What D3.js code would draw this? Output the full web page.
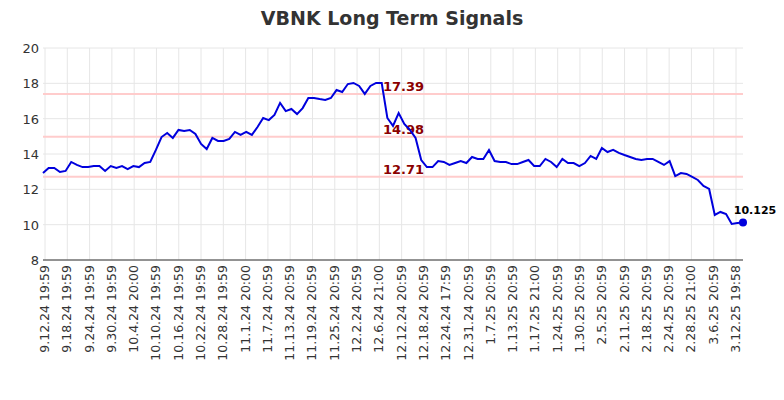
<!DOCTYPE html><html><head><meta charset="utf-8"><script src="https://cdn.jsdelivr.net/npm/d3@7"></script>
<style>body{margin:0;background:#fff}</style></head><body><svg id="c" width="784" height="400"></svg><script>
const values=[12.92,13.21,13.21,12.98,13.04,13.55,13.38,13.26,13.26,13.32,13.32,13.04,13.32,13.21,13.32,13.15,13.32,13.26,13.49,13.55,14.23,14.96,15.19,14.91,15.36,15.30,15.36,15.13,14.57,14.28,14.91,14.74,14.74,14.85,15.25,15.08,15.25,15.08,15.53,16.04,15.92,16.21,16.89,16.43,16.55,16.26,16.60,17.17,17.17,17.11,17.06,17.17,17.62,17.51,17.96,18.02,17.85,17.40,17.85,18.02,18.02,16.04,15.59,16.32,15.70,15.36,14.91,13.66,13.26,13.26,13.60,13.55,13.38,13.49,13.60,13.49,13.83,13.72,13.72,14.23,13.60,13.55,13.55,13.43,13.43,13.55,13.66,13.32,13.32,13.72,13.55,13.26,13.72,13.49,13.49,13.32,13.49,13.89,13.72,14.34,14.11,14.23,14.06,13.94,13.83,13.72,13.66,13.72,13.72,13.55,13.38,13.60,12.75,12.92,12.87,12.70,12.53,12.19,12.02,10.55,10.72,10.60,10.04,10.09,10.125];
const tickLabels=["9.12.24 19:59","9.18.24 19:59","9.24.24 19:59","9.30.24 19:59","10.4.24 20:00","10.10.24 19:59","10.16.24 19:59","10.22.24 19:59","10.28.24 19:59","11.1.24 20:00","11.7.24 20:59","11.13.24 20:59","11.19.24 20:59","11.25.24 20:59","12.2.24 20:59","12.6.24 21:00","12.12.24 20:59","12.18.24 20:59","12.24.24 17:59","12.31.24 20:59","1.7.25 20:59","1.13.25 20:59","1.17.25 21:00","1.24.25 20:59","1.30.25 20:59","2.5.25 20:59","2.11.25 20:59","2.18.25 20:59","2.24.25 20:59","2.28.25 21:00","3.6.25 20:59","3.12.25 19:58"];
const levels=[17.39,14.98,12.71];
const yTicks=[8,10,12,14,16,18,20];
const svg=d3.select("#c");
const L=43,R=743,T=48,B=260;
const x=d3.scaleLinear().domain([0,values.length-1]).range([L,R]);
const y=d3.scaleLinear().domain([8,20]).range([B,T]);
const xl=d3.scalePoint().domain(tickLabels).range([45,736]);
svg.append("text").attr("x",392).attr("y",25).attr("text-anchor","middle").attr("font-family","DejaVu Sans").attr("font-weight","bold").attr("font-size",19).attr("fill","#333").text("VBNK Long Term Signals");
const g=svg.append("g");
g.selectAll(".vg").data(tickLabels).join("line").attr("x1",d=>xl(d)).attr("x2",d=>xl(d)).attr("y1",T).attr("y2",B).attr("stroke","#e6e6e6");
g.selectAll(".hg").data(yTicks).join("line").attr("x1",L).attr("x2",R).attr("y1",d=>y(d)).attr("y2",d=>y(d)).attr("stroke","#e6e6e6");
g.selectAll(".lv").data(levels).join("line").attr("x1",L).attr("x2",R).attr("y1",d=>y(d)).attr("y2",d=>y(d)).attr("stroke","#ffcccc").attr("stroke-width",2);
g.selectAll(".lt").data(levels).join("text").attr("x",383).attr("y",d=>y(d)-3).attr("font-family","DejaVu Sans").attr("font-weight","bold").attr("font-size",13).attr("fill","#8b0000").text(d=>d.toFixed(2));
g.append("path").datum(values).attr("fill","none").attr("stroke","#0000dd").attr("stroke-width",2).attr("d",d3.line().x((d,i)=>x(i)).y(d=>y(d)));
const last=values.length-1;
g.append("circle").attr("cx",x(last)).attr("cy",y(values[last])).attr("r",4).attr("fill","#0000dd");
g.append("text").attr("x",x(last)+12).attr("y",y(values[last])-8).attr("text-anchor","middle").attr("font-family","DejaVu Sans").attr("font-weight","bold").attr("font-size",11).attr("fill","#000").text(values[last]);
g.selectAll(".yl").data(yTicks).join("text").attr("x",L-4).attr("y",d=>y(d)+5).attr("text-anchor","end").attr("font-family","DejaVu Sans").attr("font-size",13).attr("fill","#333").text(d=>d);
g.append("line").attr("x1",L).attr("x2",R).attr("y1",B).attr("y2",B).attr("stroke","#333");
g.selectAll(".xl").data(tickLabels).join("text").attr("transform",d=>`translate(${xl(d)+4},${B+5}) rotate(-90)`).attr("text-anchor","end").attr("font-family","DejaVu Sans").attr("font-size",12.5).attr("fill","#333").text(d=>d);
</script></body></html>
